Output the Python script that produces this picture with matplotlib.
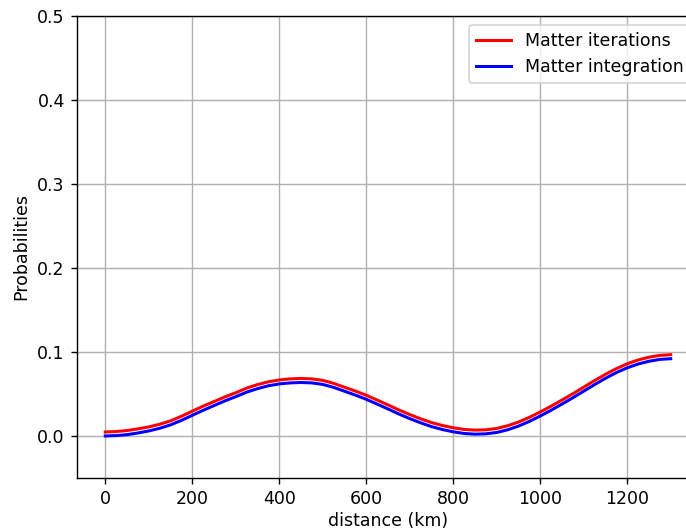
import numpy as np
import matplotlib
matplotlib.use('Agg')
import matplotlib.pyplot as plt

# values, every 25 km
distance = list(range(0, 1325, 25))
p_iter = [0.0048, 0.0053, 0.0065, 0.0085, 0.0108, 0.014, 0.018, 0.0235,
          0.0295, 0.0355, 0.041, 0.0465, 0.0515, 0.057, 0.0612, 0.0645,
          0.0667, 0.068, 0.0685, 0.068, 0.0662, 0.0627, 0.058, 0.0535,
          0.0485, 0.0428, 0.037, 0.031, 0.0255, 0.0205, 0.016, 0.0125,
          0.0098, 0.0078, 0.007, 0.0074, 0.009, 0.0122, 0.0166, 0.0222,
          0.0286, 0.0355, 0.0428, 0.0503, 0.0582, 0.066, 0.0735, 0.0802,
          0.0860, 0.0905, 0.0938, 0.0960, 0.0968]
p_integ = [0.0, 0.0005, 0.0016, 0.0036, 0.006, 0.0092, 0.0132, 0.0186,
           0.0246, 0.0306, 0.0362, 0.0418, 0.0468, 0.0522, 0.0564, 0.0598,
           0.062, 0.0632, 0.0637, 0.0632, 0.0614, 0.0579, 0.0533, 0.0487,
           0.0437, 0.038, 0.0322, 0.0262, 0.0207, 0.0157, 0.0112, 0.0077,
           0.005, 0.003, 0.0022, 0.0026, 0.0042, 0.0074, 0.0118, 0.0174,
           0.0238, 0.0307, 0.038, 0.0455, 0.0534, 0.0612, 0.0687, 0.0755,
           0.0812, 0.0857, 0.089, 0.0912, 0.092]

fig = plt.figure(figsize=(686/125, 531/125), dpi=125)
ax = fig.add_axes([77/686, 53/531, 622/686, 462/531])

ax.plot(distance, p_iter, color='red', lw=1.75, label='Matter iterations')
ax.plot(distance, p_integ, color='blue', lw=1.75, label='Matter integration')

ax.set_ylim(-0.05, 0.5)
ax.set_xlabel('distance (km)', labelpad=2)
ax.set_ylabel('Probabilities')
ax.grid(True)
ax.legend(loc='upper right')

fig.savefig('out.png', dpi=125)
